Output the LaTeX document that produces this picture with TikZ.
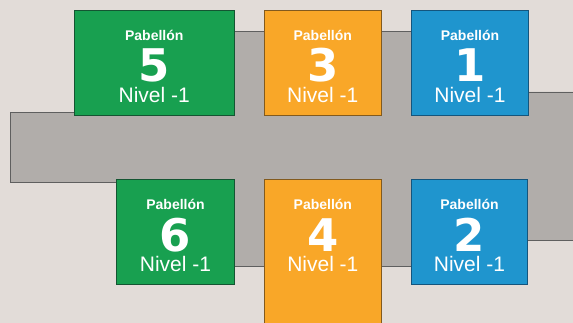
\documentclass[tikz,border=0pt]{standalone}
\usepackage{fontspec}
\setmainfont{Liberation Sans}
\newfontfamily\digitfont{DejaVu Sans}
\definecolor{bgc}{RGB}{226,220,216}
\definecolor{corr}{RGB}{177,173,170}
\definecolor{corrl}{RGB}{95,95,95}
\definecolor{pgreen}{RGB}{24,160,80}
\definecolor{pgreenl}{RGB}{20,85,50}
\definecolor{porange}{RGB}{249,167,40}
\definecolor{porangel}{RGB}{130,90,30}
\definecolor{pblue}{RGB}{31,149,206}
\definecolor{pbluel}{RGB}{20,85,125}
\begin{document}
\begin{tikzpicture}[x=1pt,y=-1pt,
  box/.style={draw, line width=0.8pt, inner sep=0pt, outer sep=0pt, anchor=north west},
  ttl/.style={anchor=base, text=white, inner sep=0pt, text depth=0pt, font=\fontsize{14}{14}\selectfont\bfseries},
  num/.style={anchor=base, text=white, inner sep=0pt, text depth=0pt, text height=32pt, font=\digitfont\fontsize{45}{45}\selectfont\bfseries},
  lvl/.style={anchor=base, text=white, inner sep=0pt, text depth=0pt, text height=15pt, font=\fontsize{21}{21}\selectfont}]
\fill[bgc] (0,0) rectangle (573,323);
\useasboundingbox (0,0) rectangle (573,323);
% corridor
\draw[fill=corr, draw=corrl, line width=0.8pt]
  (10.3,112.7) -- (100,112.7) -- (100,31.3) -- (470,31.3) -- (470,92) -- (580,92)
  -- (580,240.3) -- (470,240.3) -- (470,266.3) -- (200,266.3) -- (200,182.3)
  -- (10.3,182.3) -- cycle;
% pavilions
\node[box, fill=pgreen, draw=pgreenl, minimum width=160.5pt, minimum height=105.5pt] (b5) at (74,10) {};
\node[box, fill=porange, draw=porangel, minimum width=117.5pt, minimum height=105.5pt] (b3) at (264,10) {};
\node[box, fill=pblue, draw=pbluel, minimum width=117.4pt, minimum height=105.5pt] (b1) at (411.3,10) {};
\node[box, fill=pgreen, draw=pgreenl, minimum width=118.4pt, minimum height=105.4pt] (b6) at (116.3,179.3) {};
\node[box, fill=porange, draw=porangel, minimum width=117.7pt, minimum height=170pt] (b4) at (264,179.3) {};
\node[box, fill=pblue, draw=pbluel, minimum width=116.4pt, minimum height=105.4pt] (b2) at (411.3,179.3) {};
% labels
\foreach \b/\n in {b5/5,b3/3,b1/1,b6/6,b2/2}{
  \node[ttl] (\b t) at ([yshift=-30.5pt]\b.north) {Pabellón};
  \node[num] (\b n) at ([yshift=-72pt]\b.north) {\n};
  \node[lvl] (\b l) at ([yshift=-92.5pt]\b.north) {Nivel -1};
}
\node[ttl] (b4t) at (b4.north |- b6t.base) {Pabellón};
\node[num] (b4n) at (b4.north |- b6n.base) {4};
\node[lvl] (b4l) at (b4.north |- b6l.base) {Nivel -1};
\end{tikzpicture}
\end{document}
